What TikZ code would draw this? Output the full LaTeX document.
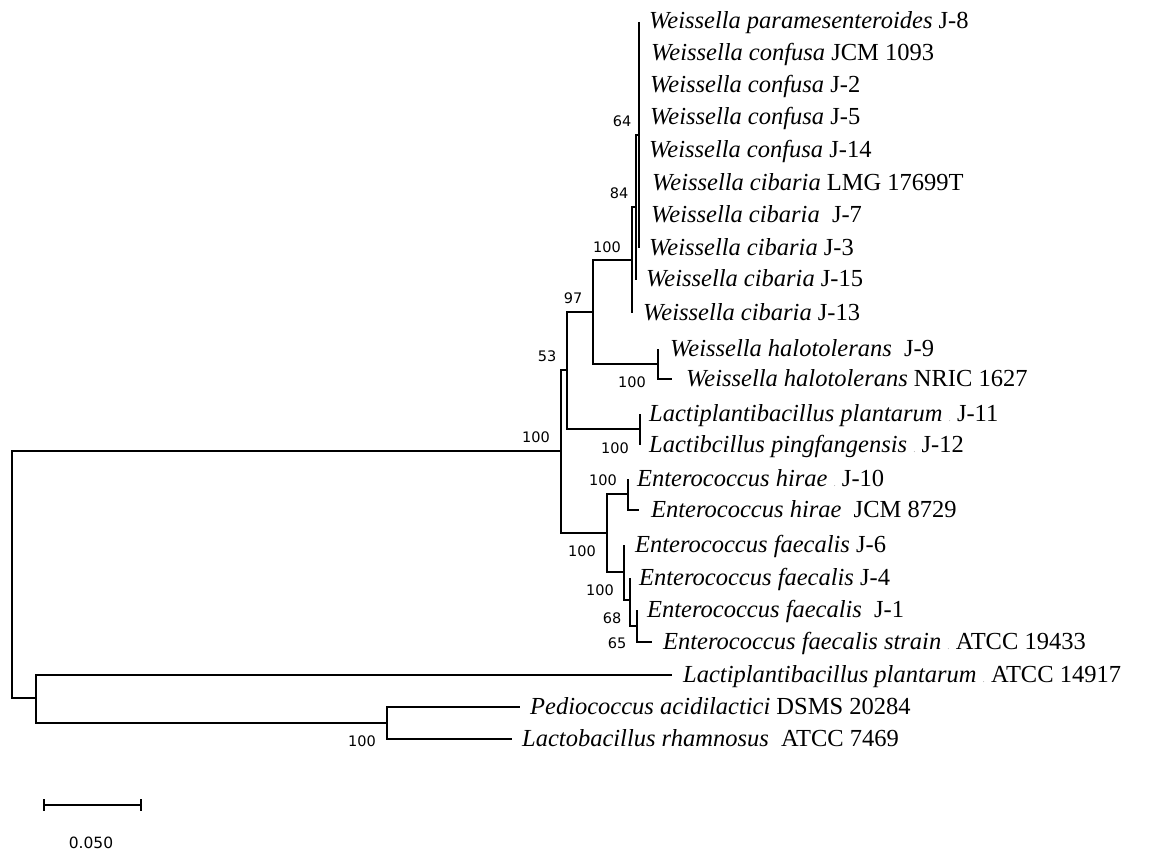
\documentclass[tikz,border=0pt]{standalone}
\usepackage{fontspec}
\setmainfont{Liberation Serif}
\newfontfamily\bsfont{DejaVu Sans}
\begin{document}
\begin{tikzpicture}[x=1pt,y=-1pt,
  tree/.style={line width=1.8pt},
  leaf/.style={anchor=base west, inner sep=0pt, font=\fontsize{24.5}{24.5}\selectfont},
  boot/.style={inner sep=0pt, font=\bsfont\fontsize{14.5}{14.5}\selectfont}]
\useasboundingbox (0,0) rectangle (1149,853);
\newcommand\gdot{{\color{black!35}\fontsize{9}{9}\selectfont.}}
% internal nodes
\coordinate (root) at (12,574);
\coordinate (n100r) at (561,451);
\coordinate (n53) at (567,370);
\coordinate (n97) at (593,312);
\coordinate (n100a) at (632,260);
\coordinate (n84) at (636,207);
\coordinate (n64) at (639,135);
\coordinate (nhal) at (658,364);
\coordinate (nlac) at (640,429);
\coordinate (nent) at (607,533);
\coordinate (nhir) at (628,494);
\coordinate (nfae) at (624,572);
\coordinate (n100f) at (630,600);
\coordinate (n65) at (637,626);
\coordinate (nout) at (36,698);
\coordinate (nped) at (387,723);
% leaves
\coordinate (L1) at (639,22);
\coordinate (L2) at (639,54);
\coordinate (L3) at (639,86);
\coordinate (L4) at (639,118);
\coordinate (L5) at (639,151);
\coordinate (L6) at (639,184);
\coordinate (L7) at (639,216);
\coordinate (L8) at (639,248);
\coordinate (L9) at (636,280);
\coordinate (L10) at (632,313);
\coordinate (L11) at (658,349);
\coordinate (L12) at (672,379);
\coordinate (L13) at (640,414);
\coordinate (L14) at (640,445);
\coordinate (L15) at (628,479);
\coordinate (L16) at (639,510);
\coordinate (L17) at (624,545);
\coordinate (L18) at (630,578);
\coordinate (L19) at (637,610);
\coordinate (L20) at (652,642);
\coordinate (L21) at (672,675);
\coordinate (L22) at (520,707);
\coordinate (L23) at (512,739);
% branches
\draw[tree] (root) |- (n100r); \draw[tree] (root) |- (nout);
\draw[tree] (n100r) |- (n53); \draw[tree] (n100r) |- (nent);
\draw[tree] (n53) |- (n97); \draw[tree] (n53) |- (nlac);
\draw[tree] (n97) |- (n100a); \draw[tree] (n97) |- (nhal);
\draw[tree] (n100a) |- (n84); \draw[tree] (n100a) |- (L10);
\draw[tree] (n84) |- (n64); \draw[tree] (n84) |- (L9);
\draw[tree] (L1) -- (L8);
\draw[tree] (nhal) |- (L11); \draw[tree] (nhal) |- (L12);
\draw[tree] (nlac) |- (L13); \draw[tree] (nlac) |- (L14);
\draw[tree] (nent) |- (nhir); \draw[tree] (nent) |- (nfae);
\draw[tree] (nhir) |- (L15); \draw[tree] (nhir) |- (L16);
\draw[tree] (nfae) |- (L17); \draw[tree] (nfae) |- (n100f);
\draw[tree] (n100f) |- (L18); \draw[tree] (n100f) |- (n65);
\draw[tree] (n65) |- (L19); \draw[tree] (n65) |- (L20);
\draw[tree] (nout) |- (L21); \draw[tree] (nout) |- (nped);
\draw[tree] (nped) |- (L22); \draw[tree] (nped) |- (L23);
% leaf labels
\node[leaf] (t1) at ([xshift=10pt,yshift=-7pt]L1) {\textit{Weissella paramesenteroides} J-8};
\node[leaf] (t2) at ([xshift=12pt,yshift=-7pt]L2) {\textit{Weissella confusa} JCM 1093};
\node[leaf] (t3) at ([xshift=11pt,yshift=-7pt]L3) {\textit{Weissella confusa} J-2};
\node[leaf] (t4) at ([xshift=11pt,yshift=-7pt]L4) {\textit{Weissella confusa} J-5};
\node[leaf] (t5) at ([xshift=10pt,yshift=-7pt]L5) {\textit{Weissella confusa} J-14};
\node[leaf] (t6) at ([xshift=13pt,yshift=-7pt]L6) {\textit{Weissella cibaria} LMG 17699T};
\node[leaf] (t7) at ([xshift=12pt,yshift=-7pt]L7) {\textit{Weissella cibaria}\ \ J-7};
\node[leaf] (t8) at ([xshift=10pt,yshift=-7pt]L8) {\textit{Weissella cibaria} J-3};
\node[leaf] (t9) at ([xshift=10pt,yshift=-7pt]L9) {\textit{Weissella cibaria} J-15};
\node[leaf] (t10) at ([xshift=11pt,yshift=-7pt]L10) {\textit{Weissella cibaria} J-13};
\node[leaf] (t11) at ([xshift=12pt,yshift=-7pt]L11) {\textit{Weissella halotolerans}\ \ J-9};
\node[leaf] (t12) at ([xshift=14pt,yshift=-7pt]L12) {\textit{Weissella halotolerans} NRIC 1627};
\node[leaf] (t13) at ([xshift=9pt,yshift=-7pt]L13) {\textit{Lactiplantibacillus plantarum} \gdot\ J-11};
\node[leaf] (t14) at ([xshift=9pt,yshift=-7pt]L14) {\textit{Lactibcillus pingfangensis} \gdot\ J-12};
\node[leaf] (t15) at ([xshift=9pt,yshift=-7pt]L15) {\textit{Enterococcus hirae} \gdot\ J-10};
\node[leaf] (t16) at ([xshift=12pt,yshift=-7pt]L16) {\textit{Enterococcus hirae}\ \ JCM 8729};
\node[leaf] (t17) at ([xshift=11pt,yshift=-7pt]L17) {\textit{Enterococcus faecalis} J-6};
\node[leaf] (t18) at ([xshift=9pt,yshift=-7pt]L18) {\textit{Enterococcus faecalis} J-4};
\node[leaf] (t19) at ([xshift=10pt,yshift=-7pt]L19) {\textit{Enterococcus faecalis}\ \ J-1};
\node[leaf] (t20) at ([xshift=11pt,yshift=-7pt]L20) {\textit{Enterococcus faecalis strain} \gdot\ ATCC 19433};
\node[leaf] (t21) at ([xshift=11pt,yshift=-7pt]L21) {\textit{Lactiplantibacillus plantarum} \gdot\ ATCC 14917};
\node[leaf] (t22) at ([xshift=10pt,yshift=-7pt]L22) {\textit{Pediococcus acidilactici} DSMS 20284};
\node[leaf] (t23) at ([xshift=10pt,yshift=-7pt]L23) {\textit{Lactobacillus rhamnosus}\ \ ATCC 7469};
% bootstrap values
\node[boot] (b64) at (622,121) {64};
\node[boot] (b84) at (619,193) {84};
\node[boot] (b100a) at (607,247) {100};
\node[boot] (b97) at (573,298) {97};
\node[boot] (b53) at (547,356) {53};
\node[boot] (b100h) at (632,382) {100};
\node[boot] (b100r) at (536,437) {100};
\node[boot] (b100l) at (615,448) {100};
\node[boot] (b100hi) at (603,480) {100};
\node[boot] (b100e) at (582,551) {100};
\node[boot] (b100f) at (600,590) {100};
\node[boot] (b68) at (612,618) {68};
\node[boot] (b65) at (617,643) {65};
\node[boot] (b100p) at (362,741) {100};
% scale bar
\coordinate (sb1) at (44,805);
\coordinate (sb2) at (141,805);
\draw[tree] (sb1) -- (sb2);
\draw[tree] ([yshift=6pt]sb1) -- ([yshift=-6pt]sb1);
\draw[tree] ([yshift=6pt]sb2) -- ([yshift=-6pt]sb2);
\node[boot, font=\bsfont\fontsize{15.5}{15.5}\selectfont] (sbl) at (91,843) {0.050};
\end{tikzpicture}
\end{document}
